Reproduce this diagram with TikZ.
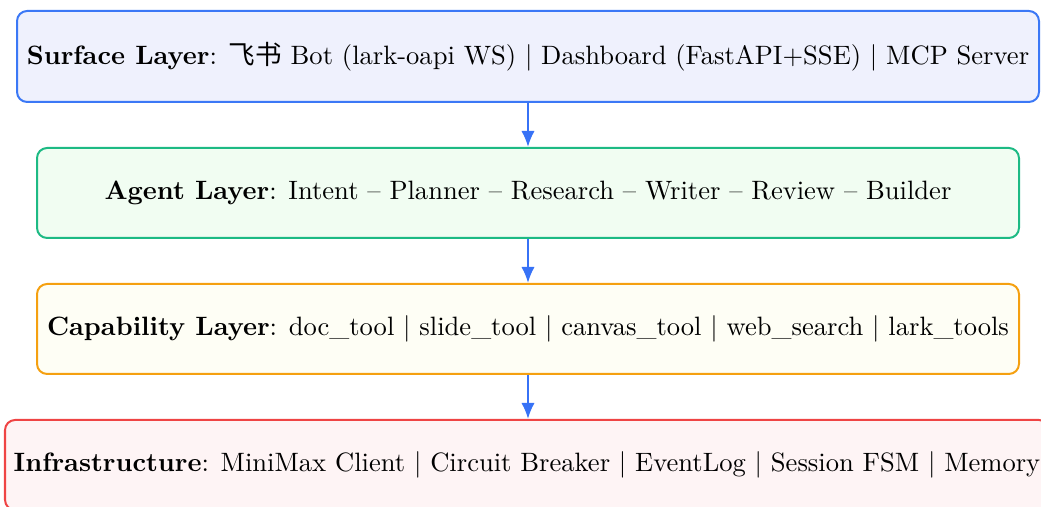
\documentclass[tikz,border=0pt]{standalone}
\usepackage{fontspec}
\newfontfamily\cjk{Noto Sans CJK SC}
\usetikzlibrary{arrows.meta}
\definecolor{sfdraw}{HTML}{3B78F6}
\definecolor{sffill}{HTML}{EFF1FD}
\definecolor{agdraw}{HTML}{1DBA84}
\definecolor{agfill}{HTML}{F1FDF2}
\definecolor{cpdraw}{HTML}{F5A010}
\definecolor{cpfill}{HTML}{FEFEF5}
\definecolor{ifdraw}{HTML}{EF4444}
\definecolor{iffill}{HTML}{FEF4F5}
\definecolor{arr}{HTML}{3772F6}
\tikzset{
  layer/.style={rounded corners=3.8pt, line width=0.75pt, inner sep=0pt, align=center, font=\fontsize{9.96pt}{12pt}\selectfont},
  flow/.style={draw=arr, line width=0.75pt, -{Latex[length=6pt,width=5pt]}},
}
\begin{document}
\begin{tikzpicture}[x=0.375pt,y=-0.375pt]
\useasboundingbox (0,0) rectangle (1041,507);
\node[layer, draw=sfdraw, fill=sffill, minimum width=1022*0.375pt, minimum height=91*0.375pt] (surface) at (528,56.5)
  {\textbf{Surface Layer}: {\cjk 飞书} Bot (lark-oapi WS) | Dashboard (FastAPI+SSE) | MCP Server};
\node[layer, draw=agdraw, fill=agfill, minimum width=982*0.375pt, minimum height=90*0.375pt] (agent) at (528,193)
  {\textbf{Agent Layer}: Intent -- Planner -- Research -- Writer -- Review -- Builder};
\node[layer, draw=cpdraw, fill=cpfill, minimum width=982*0.375pt, minimum height=90*0.375pt] (cap) at (528,329)
  {\textbf{Capability Layer}: doc\_tool | slide\_tool | canvas\_tool | web\_search | lark\_tools};
\node[layer, draw=ifdraw, fill=iffill, minimum width=1044*0.375pt, minimum height=90*0.375pt] (infra) at (527,465)
  {\textbf{Infrastructure}: MiniMax Client | Circuit Breaker | EventLog | Session FSM | Memory};
\draw[flow] (surface.south) -- (agent.north);
\draw[flow] (agent.south) -- (cap.north);
\draw[flow] (cap.south) -- (cap.south |- infra.north);
\end{tikzpicture}
\end{document}
